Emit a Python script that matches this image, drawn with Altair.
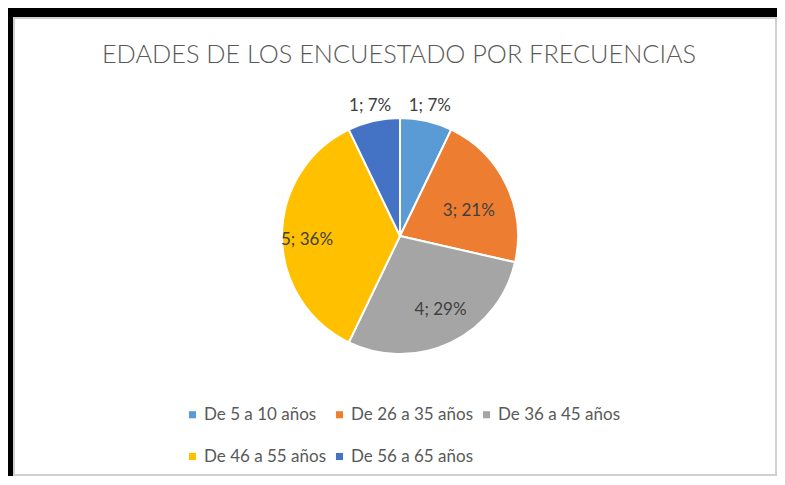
import altair as alt
import pandas as pd

categories = ["De 5 a 10 años", "De 26 a 35 años", "De 36 a 45 años", "De 46 a 55 años", "De 56 a 65 años"]
counts = [1, 3, 4, 5, 1]
colors = ["#5B9BD5", "#ED7D31", "#A5A5A5", "#FFC000", "#4472C4"]
title_text = "EDADES DE LOS ENCUESTADO POR FRECUENCIAS"

total = sum(counts)
df = pd.DataFrame({
    "cat": categories,
    "n": counts,
    "idx": list(range(len(categories))),
    "label": [f"{c}; {round(c / total * 100)}%" for c in counts],
})

W, H = 769, 468
CX, CY, R = 392, 228, 118
FONT = "Lato"

base = alt.Chart(df)

color_enc = alt.Color(
    "cat:N",
    scale=alt.Scale(domain=categories, range=colors),
    sort=categories,
    legend=alt.Legend(
        title=None, orient="none", legendX=176, legendY=398, columns=3,
        direction="horizontal",
        symbolType="square", symbolSize=50, symbolStrokeWidth=0,
        labelFontSize=17, labelFont=FONT, labelColor="#595959",
        columnPadding=4, rowPadding=24, labelOffset=3, padding=0,
        labelLimit=300,
    ),
)

pie = base.mark_arc(outerRadius=R, stroke="white", strokeWidth=2).encode(
    theta=alt.Theta("n:Q", stack=True),
    order=alt.Order("idx:O"),
    color=color_enc,
    x=alt.value(CX), y=alt.value(CY),
)

def label_layer(cats, radius, dx=0, dy=0):
    return base.mark_text(radius=radius, font=FONT, fontSize=17, color="#404040",
                          align="center", baseline="middle", dx=dx, dy=dy).encode(
        theta=alt.Theta("n:Q", stack=True),
        order=alt.Order("idx:O"),
        text=alt.condition(alt.FieldOneOfPredicate(field="cat", oneOf=cats),
                           alt.Text("label:N"), alt.value("")),
        x=alt.value(CX), y=alt.value(CY),
    )

lab_out = label_layer([categories[0], categories[4]], 134, dy=1)
lab_or = label_layer([categories[1]], 73, dx=3, dy=7)
lab_gr = label_layer([categories[2]], 82, dx=5)
lab_ye = label_layer([categories[3]], 93, dy=4)

one = pd.DataFrame({"t": [title_text]})
title = alt.Chart(one).mark_text(font=FONT, fontSize=25.3, fontWeight=300, color="#595959",
                                 align="center", baseline="middle").encode(
    text="t:N", x=alt.value(391), y=alt.value(47))

def rect(x, x2, y, y2, fill, stroke=None):
    kw = dict(fill=fill)
    if stroke:
        kw = dict(fill=fill, fillOpacity=0, stroke=stroke, strokeWidth=2)
    return alt.Chart(one).mark_rect(**kw).encode(
        x=alt.value(x), x2=alt.value(x2), y=alt.value(y), y2=alt.value(y2))

frame = [
    rect(6, W - 1, 10, H - 1, "white", stroke="#d0d0d0"),
    rect(0, W, 0, 9, "black"),
    rect(0, 5, 0, H, "black"),
]

chart = alt.layer(*frame, pie, lab_out, lab_or, lab_gr, lab_ye, title).properties(
    width=W, height=H, padding=0, autosize=alt.AutoSizeParams(type="none"),
    background="white",
).configure_view(stroke=None)

chart.save("out.html", embed_options={"renderer": "svg", "actions": False})
